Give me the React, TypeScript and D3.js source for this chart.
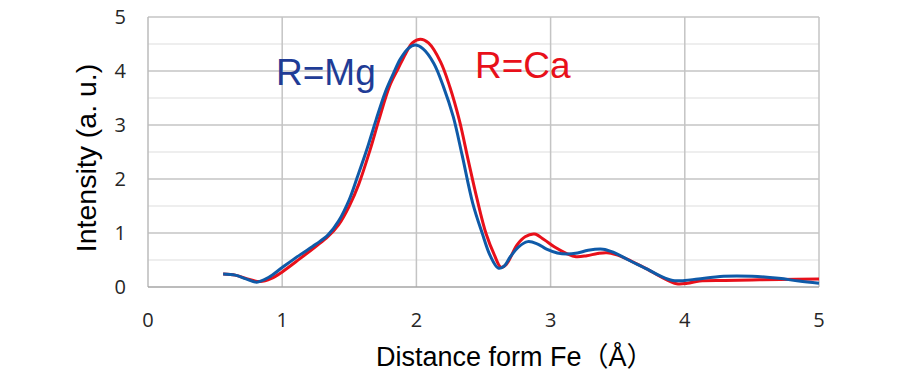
import React from "react";
import * as d3 from "d3";

const xTicks = [0, 1, 2, 3, 4, 5];
const yTicks = [0, 1, 2, 3, 4, 5];
const yMinor = [0.5, 1.5, 2.5, 3.5, 4.5];

const mgX = [0.56, 0.65, 0.73, 0.81, 0.9, 1.0, 1.13, 1.25, 1.34, 1.42, 1.5, 1.555, 1.63, 1.7, 1.77, 1.83, 1.88, 1.94, 1.99, 2.05, 2.13, 2.2, 2.275, 2.34, 2.42, 2.49, 2.55, 2.61, 2.65, 2.7, 2.76, 2.83, 2.9, 2.97, 3.05, 3.12, 3.2, 3.28, 3.39, 3.47, 3.58, 3.72, 3.82, 3.91, 4.0, 4.1, 4.29, 4.5, 4.7, 4.85, 5.0];
const mgY = [0.24, 0.22, 0.15, 0.09, 0.18, 0.36, 0.59, 0.79, 0.96, 1.22, 1.62, 2.0, 2.54, 3.1, 3.62, 3.96, 4.22, 4.42, 4.48, 4.41, 4.14, 3.72, 3.15, 2.45, 1.55, 1.0, 0.58, 0.35, 0.38, 0.56, 0.74, 0.84, 0.8, 0.7, 0.63, 0.61, 0.63, 0.68, 0.7, 0.64, 0.5, 0.33, 0.2, 0.12, 0.12, 0.15, 0.2, 0.2, 0.16, 0.11, 0.07];

const caX = [0.56, 0.65, 0.74, 0.835, 0.92, 1.0, 1.13, 1.25, 1.34, 1.42, 1.5, 1.57, 1.655, 1.72, 1.8, 1.865, 1.92, 1.97, 2.03, 2.09, 2.18, 2.25, 2.32, 2.386, 2.45, 2.52, 2.58, 2.63, 2.67, 2.75, 2.81, 2.88, 2.95, 3.03, 3.12, 3.19, 3.27, 3.35, 3.42, 3.5, 3.6, 3.72, 3.82, 3.94, 4.02, 4.11, 4.3, 4.5, 4.71, 5.0];
const caY = [0.24, 0.22, 0.15, 0.1, 0.16, 0.28, 0.52, 0.75, 0.93, 1.15, 1.5, 1.9, 2.54, 3.09, 3.72, 4.05, 4.32, 4.52, 4.59, 4.52, 4.17, 3.7, 3.09, 2.35, 1.65, 0.98, 0.6, 0.365, 0.42, 0.78, 0.93, 0.98, 0.88, 0.74, 0.62, 0.56, 0.58, 0.62, 0.635, 0.59, 0.48, 0.33, 0.19, 0.06, 0.07, 0.11, 0.12, 0.13, 0.14, 0.15];

const W = 897;
const H = 382;

export default function App() {
  const x = d3.scaleLinear().domain([0, 5]).range([148, 819]);
  const y = d3.scaleLinear().domain([0, 5]).range([287, 17]);
  const line = d3
    .line<[number, number]>()
    .x((d) => x(d[0]))
    .y((d) => y(d[1]))
    .curve(d3.curveCatmullRom.alpha(0.5));
  const mg = mgX.map((v, i) => [v, mgY[i]] as [number, number]);
  const ca = caX.map((v, i) => [v, caY[i]] as [number, number]);
  const tickFont = "'Open Sans', 'Noto Sans', sans-serif";
  const titleFont = "'Liberation Sans', Arial, 'Noto Sans CJK SC', sans-serif";
  return (
    <svg
      width={W}
      height={H}
      style={{ position: "absolute", left: 0, top: 0, background: "#fff" }}
    >
      <rect x={0} y={0} width={W} height={H} fill="#fff" />
      {yMinor.map((t) => (
        <line key={"m" + t} x1={x(0)} x2={x(5)} y1={y(t)} y2={y(t)} stroke="#E8E8E8" strokeWidth={1.5} />
      ))}
      {yTicks.slice(1).map((t) => (
        <line key={"g" + t} x1={x(0)} x2={x(5)} y1={y(t)} y2={y(t)} stroke="#C4C4C4" strokeWidth={1.5} />
      ))}
      {xTicks.slice(1).map((t) => (
        <line key={"v" + t} x1={x(t)} x2={x(t)} y1={y(0)} y2={y(5)} stroke="#C4C4C4" strokeWidth={1.5} />
      ))}
      <line x1={x(0)} x2={x(0)} y1={y(0)} y2={y(5)} stroke="#BBBBBB" strokeWidth={1.5} />
      <line x1={x(0)} x2={x(5)} y1={y(0)} y2={y(0)} stroke="#A6A6A6" strokeWidth={1.5} />
      <path d={line(ca) || ""} fill="none" stroke="#E8101A" strokeWidth={3} strokeLinejoin="round" />
      <path d={line(mg) || ""} fill="none" stroke="#0F5AA8" strokeWidth={3} strokeLinejoin="round" />
      {yTicks.map((t) => (
        <text key={"yl" + t} x={126} y={y(t)} dy="0.35em" textAnchor="end" fontSize={20} fill="#262626" fontFamily={tickFont}>
          {t}
        </text>
      ))}
      {xTicks.map((t) => (
        <text key={"xl" + t} x={x(t)} y={327} textAnchor="middle" fontSize={20} fill="#262626" fontFamily={tickFont}>
          {t}
        </text>
      ))}
      <text x={376} y={366} fontSize={27} fill="#000" fontFamily={titleFont}>
        Distance form Fe（Å）
      </text>
      <text
        transform={`translate(96,158) rotate(-90)`}
        textAnchor="middle"
        fontSize={28.5}
        fill="#000"
        fontFamily={titleFont}
      >
        Intensity (a. u.)
      </text>
      <text x={276} y={85} fontSize={37} fill="#1F3C96" fontFamily={titleFont}>
        R=Mg
      </text>
      <text x={475} y={78} fontSize={37} fill="#E8101A" fontFamily={titleFont}>
        R=Ca
      </text>
    </svg>
  );
}
